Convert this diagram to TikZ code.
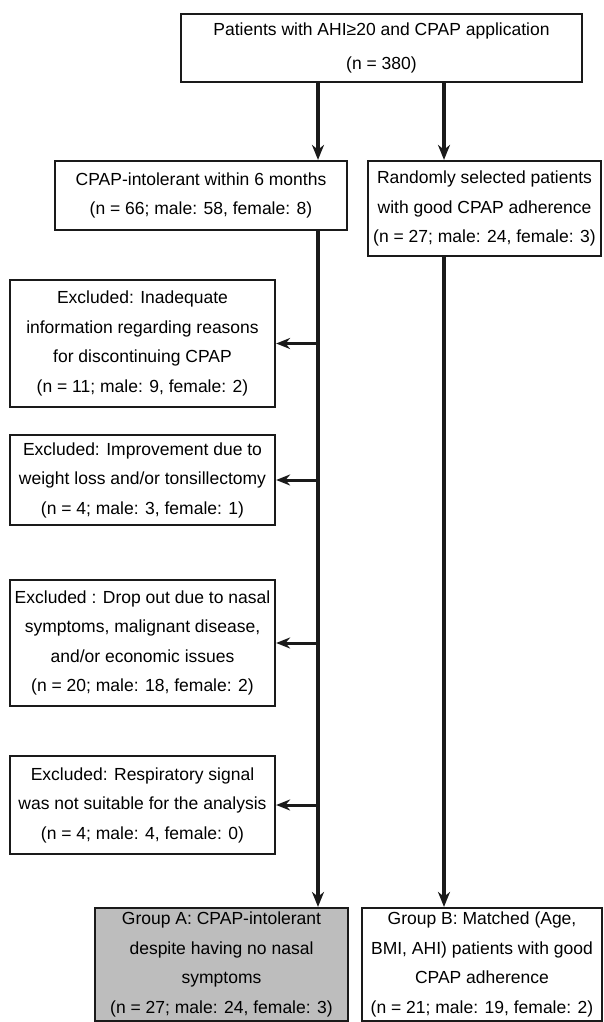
\documentclass[tikz,border=0pt]{standalone}
\usepackage{fontspec}
\setmainfont{Liberation Sans}
\usetikzlibrary{arrows.meta, positioning}
\definecolor{fline}{HTML}{1A1A1A}
\definecolor{fgray}{HTML}{BDBDBD}
\tikzset{
  fbox/.style={draw=fline, line width=2.2pt, fill=white, align=center, inner sep=0pt,
               font=\fontsize{17.5}{29.5}\selectfont},
  gbox/.style={fbox, fill=fgray},
  arr/.style={-{Stealth[length=15pt,width=12pt]}, line width=4.2pt, fline},
  xarr/.style={-{Stealth[length=14pt,width=11pt]}, line width=3pt, fline},
}

\begin{document}
\begin{tikzpicture}[x=1pt, y=-1pt]
  \useasboundingbox (0,0) rectangle (603,1022);
  \node[fbox, minimum width=401pt, minimum height=68pt,
        font=\fontsize{17.5}{34}\selectfont] (top) at (381.5,48)
    {Patients with AHI≥20 and CPAP application\\(n = 380)};
  \node[fbox, minimum width=292pt, minimum height=69pt] (intol) at (201,195.5)
    {CPAP-intolerant within 6 months\\(n = 66; male: 58, female: 8)};
  \node[fbox, minimum width=233pt, minimum height=95pt] (rand) at (484.5,208.5)
    {Randomly selected patients\\with good CPAP adherence\\(n = 27; male: 24, female: 3)};
  \node[fbox, minimum width=265pt, minimum height=127pt] (ex1) at (142.5,343.5)
    {Excluded: Inadequate\\information regarding reasons\\for discontinuing CPAP\\(n = 11; male: 9, female: 2)};
  \node[fbox, minimum width=265pt, minimum height=90pt] (ex2) at (142.5,480)
    {Excluded: Improvement due to\\weight loss and/or tonsillectomy\\(n = 4; male: 3, female: 1)};
  \node[fbox, minimum width=265pt, minimum height=126pt] (ex3) at (142.5,643)
    {Excluded : Drop out due to nasal\\symptoms, malignant disease,\\and/or economic issues\\(n = 20; male: 18, female: 2)};
  \node[fbox, minimum width=265pt, minimum height=98pt] (ex4) at (142.5,805)
    {Excluded: Respiratory signal\\was not suitable for the analysis\\(n = 4; male: 4, female: 0)};
  \node[gbox, minimum width=253pt, minimum height=113pt] (grpA) at (221.5,964.5)
    {Group A: CPAP-intolerant\\despite having no nasal\\symptoms\\(n = 27; male: 24, female: 3)};
  \node[fbox, minimum width=240pt, minimum height=113pt] (grpB) at (482,964.5)
    {Group B: Matched (Age,\\BMI, AHI) patients with good\\CPAP adherence\\(n = 21; male: 19, female: 2)};

  \coordinate (lx) at (318,0);
  \coordinate (rx) at (444,0);
  \draw[arr] (lx |- top.south) -- (lx |- intol.north);
  \draw[arr] (rx |- top.south) -- (rx |- rand.north);
  \draw[arr] (lx |- intol.south) -- (lx |- grpA.north);
  \draw[arr] (rx |- rand.south) -- (rx |- grpB.north);
  \foreach \e in {ex1,ex2,ex3,ex4}
    \draw[xarr] (lx |- \e.east) -- (\e.east);
\end{tikzpicture}
\end{document}
